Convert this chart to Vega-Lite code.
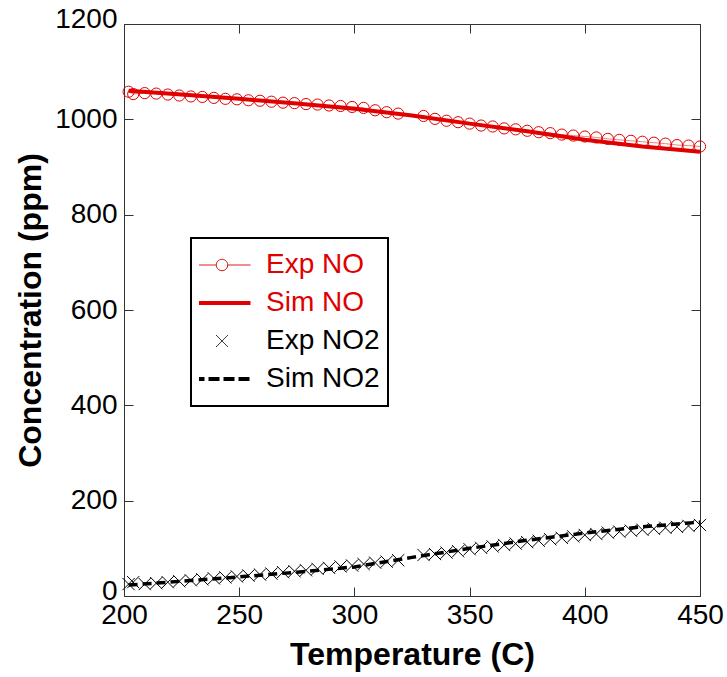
{
  "$schema": "https://vega.github.io/schema/vega-lite/v6.json",
  "width": 576,
  "height": 572,
  "autosize": {"type": "none"},
  "padding": {"left": 124, "top": 24, "right": 27, "bottom": 81},
  "background": "white",
  "config": {
    "view": {"stroke": "#333333", "strokeWidth": 1},
    "axis": {
      "grid": false,
      "domainColor": "#333333",
      "domainWidth": 1,
      "tickColor": "#333333",
      "tickWidth": 1,
      "tickSize": -9,
      "labelFlush": false,
      "labelFont": "Liberation Sans",
      "labelFontSize": 28,
      "labelColor": "#000000",
      "labelPadding": 14,
      "titleFont": "Liberation Sans",
      "titleFontSize": 32,
      "titleFontWeight": "bold",
      "titleColor": "#000000"
    }
  },
  "data": {
    "values": [
      {"series": "Exp NO", "T": 202, "ppm": 1058}, {"series": "Exp NO", "T": 204, "ppm": 1053},
      {"series": "Exp NO", "T": 209, "ppm": 1055}, {"series": "Exp NO", "T": 214, "ppm": 1054},
      {"series": "Exp NO", "T": 219, "ppm": 1052}, {"series": "Exp NO", "T": 224, "ppm": 1050},
      {"series": "Exp NO", "T": 229, "ppm": 1048}, {"series": "Exp NO", "T": 234, "ppm": 1047},
      {"series": "Exp NO", "T": 239, "ppm": 1045}, {"series": "Exp NO", "T": 244, "ppm": 1043},
      {"series": "Exp NO", "T": 249, "ppm": 1042}, {"series": "Exp NO", "T": 254, "ppm": 1040},
      {"series": "Exp NO", "T": 259, "ppm": 1039}, {"series": "Exp NO", "T": 264, "ppm": 1037},
      {"series": "Exp NO", "T": 269, "ppm": 1035}, {"series": "Exp NO", "T": 274, "ppm": 1034},
      {"series": "Exp NO", "T": 279, "ppm": 1032}, {"series": "Exp NO", "T": 284, "ppm": 1031},
      {"series": "Exp NO", "T": 289, "ppm": 1029}, {"series": "Exp NO", "T": 294, "ppm": 1028},
      {"series": "Exp NO", "T": 299, "ppm": 1026}, {"series": "Exp NO", "T": 304, "ppm": 1024},
      {"series": "Exp NO", "T": 309, "ppm": 1019}, {"series": "Exp NO", "T": 314, "ppm": 1015},
      {"series": "Exp NO", "T": 319, "ppm": 1012},
      {"series": "Exp NO", "T": 330, "ppm": 1007}, {"series": "Exp NO", "T": 335, "ppm": 1001},
      {"series": "Exp NO", "T": 340, "ppm": 997}, {"series": "Exp NO", "T": 345, "ppm": 994},
      {"series": "Exp NO", "T": 350, "ppm": 991}, {"series": "Exp NO", "T": 355, "ppm": 987},
      {"series": "Exp NO", "T": 360, "ppm": 985}, {"series": "Exp NO", "T": 365, "ppm": 981},
      {"series": "Exp NO", "T": 370, "ppm": 979}, {"series": "Exp NO", "T": 375, "ppm": 976},
      {"series": "Exp NO", "T": 380, "ppm": 973}, {"series": "Exp NO", "T": 385, "ppm": 971},
      {"series": "Exp NO", "T": 390, "ppm": 968}, {"series": "Exp NO", "T": 395, "ppm": 966},
      {"series": "Exp NO", "T": 400, "ppm": 964}, {"series": "Exp NO", "T": 405, "ppm": 962},
      {"series": "Exp NO", "T": 410, "ppm": 959}, {"series": "Exp NO", "T": 415, "ppm": 957},
      {"series": "Exp NO", "T": 420, "ppm": 955}, {"series": "Exp NO", "T": 425, "ppm": 953},
      {"series": "Exp NO", "T": 430, "ppm": 951}, {"series": "Exp NO", "T": 435, "ppm": 949},
      {"series": "Exp NO", "T": 440, "ppm": 946}, {"series": "Exp NO", "T": 445, "ppm": 945},
      {"series": "Exp NO", "T": 450, "ppm": 943},

      {"series": "Exp NO2", "T": 202, "ppm": 25}, {"series": "Exp NO2", "T": 204, "ppm": 29},
      {"series": "Exp NO2", "T": 209, "ppm": 25}, {"series": "Exp NO2", "T": 214, "ppm": 27},
      {"series": "Exp NO2", "T": 219, "ppm": 29}, {"series": "Exp NO2", "T": 224, "ppm": 31},
      {"series": "Exp NO2", "T": 229, "ppm": 33}, {"series": "Exp NO2", "T": 234, "ppm": 35},
      {"series": "Exp NO2", "T": 239, "ppm": 37}, {"series": "Exp NO2", "T": 244, "ppm": 39},
      {"series": "Exp NO2", "T": 249, "ppm": 41}, {"series": "Exp NO2", "T": 254, "ppm": 43},
      {"series": "Exp NO2", "T": 259, "ppm": 45}, {"series": "Exp NO2", "T": 264, "ppm": 47},
      {"series": "Exp NO2", "T": 269, "ppm": 50}, {"series": "Exp NO2", "T": 274, "ppm": 52},
      {"series": "Exp NO2", "T": 279, "ppm": 54}, {"series": "Exp NO2", "T": 284, "ppm": 57},
      {"series": "Exp NO2", "T": 289, "ppm": 59}, {"series": "Exp NO2", "T": 294, "ppm": 62},
      {"series": "Exp NO2", "T": 299, "ppm": 64}, {"series": "Exp NO2", "T": 304, "ppm": 67},
      {"series": "Exp NO2", "T": 309, "ppm": 70}, {"series": "Exp NO2", "T": 314, "ppm": 72},
      {"series": "Exp NO2", "T": 319, "ppm": 75},
      {"series": "Exp NO2", "T": 330, "ppm": 86}, {"series": "Exp NO2", "T": 335, "ppm": 88},
      {"series": "Exp NO2", "T": 340, "ppm": 91}, {"series": "Exp NO2", "T": 345, "ppm": 94},
      {"series": "Exp NO2", "T": 350, "ppm": 98}, {"series": "Exp NO2", "T": 355, "ppm": 101},
      {"series": "Exp NO2", "T": 360, "ppm": 104}, {"series": "Exp NO2", "T": 365, "ppm": 107},
      {"series": "Exp NO2", "T": 370, "ppm": 110}, {"series": "Exp NO2", "T": 375, "ppm": 113},
      {"series": "Exp NO2", "T": 380, "ppm": 116}, {"series": "Exp NO2", "T": 385, "ppm": 119},
      {"series": "Exp NO2", "T": 390, "ppm": 122}, {"series": "Exp NO2", "T": 395, "ppm": 125},
      {"series": "Exp NO2", "T": 400, "ppm": 128}, {"series": "Exp NO2", "T": 405, "ppm": 130},
      {"series": "Exp NO2", "T": 410, "ppm": 133}, {"series": "Exp NO2", "T": 415, "ppm": 135},
      {"series": "Exp NO2", "T": 420, "ppm": 137}, {"series": "Exp NO2", "T": 425, "ppm": 139},
      {"series": "Exp NO2", "T": 430, "ppm": 141}, {"series": "Exp NO2", "T": 435, "ppm": 143},
      {"series": "Exp NO2", "T": 440, "ppm": 145}, {"series": "Exp NO2", "T": 445, "ppm": 147},
      {"series": "Exp NO2", "T": 450, "ppm": 149},

      {"series": "Sim NO", "T": 202, "ppm": 1060}, {"series": "Sim NO", "T": 225, "ppm": 1052},
      {"series": "Sim NO", "T": 250, "ppm": 1043}, {"series": "Sim NO", "T": 275, "ppm": 1033},
      {"series": "Sim NO", "T": 300, "ppm": 1022}, {"series": "Sim NO", "T": 325, "ppm": 1008},
      {"series": "Sim NO", "T": 350, "ppm": 991}, {"series": "Sim NO", "T": 375, "ppm": 975},
      {"series": "Sim NO", "T": 400, "ppm": 957}, {"series": "Sim NO", "T": 425, "ppm": 943},
      {"series": "Sim NO", "T": 450, "ppm": 932},

      {"series": "Sim NO2", "T": 202, "ppm": 23}, {"series": "Sim NO2", "T": 225, "ppm": 31},
      {"series": "Sim NO2", "T": 250, "ppm": 40}, {"series": "Sim NO2", "T": 275, "ppm": 50},
      {"series": "Sim NO2", "T": 300, "ppm": 61}, {"series": "Sim NO2", "T": 325, "ppm": 81},
      {"series": "Sim NO2", "T": 350, "ppm": 100}, {"series": "Sim NO2", "T": 375, "ppm": 117},
      {"series": "Sim NO2", "T": 400, "ppm": 132}, {"series": "Sim NO2", "T": 425, "ppm": 145},
      {"series": "Sim NO2", "T": 450, "ppm": 155}
    ]
  },
  "layer": [
    {
      "transform": [{"filter": "datum.series === 'Exp NO'"}],
      "mark": {"type": "line", "color": "#f08080", "strokeWidth": 1},
      "encoding": {
        "x": {"field": "T", "type": "quantitative", "scale": {"domain": [200, 450], "nice": false, "zero": false, "padding": 0},
              "axis": {"values": [200, 250, 300, 350, 400, 450], "title": "Temperature (C)", "titlePadding": 10}},
        "y": {"field": "ppm", "type": "quantitative", "scale": {"domain": [0, 1200], "nice": false, "padding": 0},
              "axis": {"values": [0, 200, 400, 600, 800, 1000, 1200], "format": "d", "labelPadding": 16,
                       "labelOffset": {"condition": {"test": "datum.value === 0 || datum.value === 1200", "value": -5}, "value": 0},
                       "title": "Concentration (ppm)", "titlePadding": 7}}
      }
    },
    {
      "transform": [{"filter": "datum.series === 'Exp NO'"}],
      "mark": {"type": "point", "shape": "circle", "filled": false, "size": 125, "strokeWidth": 1, "opacity": 1},
      "encoding": {
        "x": {"field": "T", "type": "quantitative", "scale": {"domain": [200, 450], "nice": false, "zero": false, "padding": 0}, "axis": null},
        "y": {"field": "ppm", "type": "quantitative", "scale": {"domain": [0, 1200], "nice": false, "padding": 0}, "axis": null},
        "color": {
          "field": "series", "type": "nominal",
          "scale": {"domain": ["Exp NO", "Sim NO", "Exp NO2", "Sim NO2"], "range": ["#e00000", "#e00000", "#000000", "#000000"]},
          "legend": {
            "title": null,
            "orient": "none",
            "legendX": 67,
            "legendY": 214,
            "direction": "vertical",
            "fillColor": "white",
            "strokeColor": "black",
            "cornerRadius": 0,
            "padding": 8,
            "rowPadding": 0,
            "clipHeight": 38,
            "symbolSize": 3249,
            "symbolOffset": 9,
            "labelOffset": 30,
            "labelFont": "Liberation Sans",
            "labelFontSize": 28,
            "encoding": {
              "legend": {"strokeWidth": {"value": 2}},
              "labels": {"fill": {"value": {"expr": "indexof(['Exp NO','Sim NO'], datum.label) >= 0 ? '#e00000' : '#000000'"}}},
              "symbols": {
                "shape": {"value": {"expr": "datum.value === 'Exp NO' ? 'M-1,0L-0.2,0M0.2,0L1,0M0.2,0A0.2,0.2,0,1,1,-0.2,0A0.2,0.2,0,1,1,0.2,0' : datum.value === 'Exp NO2' ? 'M-0.21,-0.21L0.21,0.21M-0.21,0.21L0.21,-0.21' : 'M-1,0L1,0'"}},
                "strokeWidth": {"value": {"expr": "(datum.value === 'Sim NO' || datum.value === 'Sim NO2') ? 4 : 1"}},
                "strokeDash": {"value": {"expr": "datum.value === 'Sim NO2' ? [11, 4] : [1, 0]"}},
                "stroke": {"value": {"expr": "datum.value === 'Exp NO' ? '#e83030' : datum.value === 'Sim NO' ? '#e00000' : '#000000'"}},
                "fill": {"value": "transparent"},
                "opacity": {"value": 1}
              }
            }
          }
        }
      }
    },
    {
      "transform": [{"filter": "datum.series === 'Exp NO2'"}],
      "mark": {"type": "point", "shape": "M-1,-1L1,1M-1,1L1,-1", "filled": false, "size": 150, "strokeWidth": 1, "color": "#000000", "opacity": 1},
      "encoding": {
        "x": {"field": "T", "type": "quantitative", "scale": {"domain": [200, 450], "nice": false, "zero": false, "padding": 0}, "axis": null},
        "y": {"field": "ppm", "type": "quantitative", "scale": {"domain": [0, 1200], "nice": false, "padding": 0}, "axis": null}
      }
    },
    {
      "transform": [{"filter": "datum.series === 'Sim NO'"}],
      "mark": {"type": "line", "color": "#e00000", "strokeWidth": 4},
      "encoding": {
        "x": {"field": "T", "type": "quantitative", "scale": {"domain": [200, 450], "nice": false, "zero": false, "padding": 0}, "axis": null},
        "y": {"field": "ppm", "type": "quantitative", "scale": {"domain": [0, 1200], "nice": false, "padding": 0}, "axis": null}
      }
    },
    {
      "transform": [{"filter": "datum.series === 'Sim NO2'"}],
      "mark": {"type": "line", "color": "#000000", "strokeWidth": 3.5, "strokeDash": [9, 5]},
      "encoding": {
        "x": {"field": "T", "type": "quantitative", "scale": {"domain": [200, 450], "nice": false, "zero": false, "padding": 0},
              "axis": {"orient": "top", "values": [200, 250, 300, 350, 400, 450], "labels": false, "title": null}},
        "y": {"field": "ppm", "type": "quantitative", "scale": {"domain": [0, 1200], "nice": false, "padding": 0},
              "axis": {"orient": "right", "values": [0, 200, 400, 600, 800, 1000, 1200], "labels": false, "title": null}}
      }
    }
  ],
  "resolve": {"axis": {"x": "independent", "y": "independent"}}
}
